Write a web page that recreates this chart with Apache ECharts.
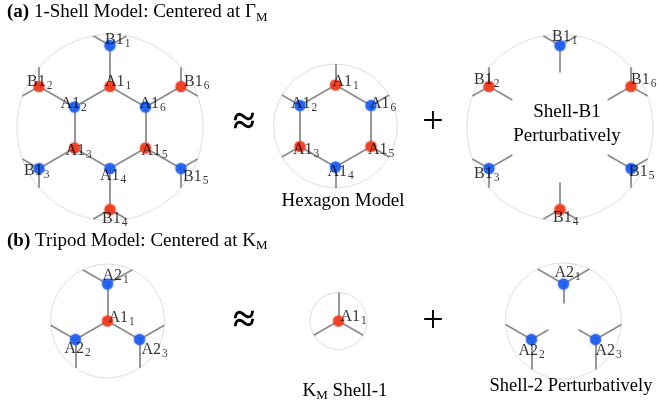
<!DOCTYPE html>
<html><head><meta charset="utf-8">
<script src="https://cdn.jsdelivr.net/npm/echarts@6/dist/echarts.min.js"></script>
<style>html,body{margin:0;padding:0;background:#fff}#c{width:658px;height:409px}</style>
</head><body><div id="c"></div>
<script>
// ---------- data (lattice coordinates, bond length = 1) ----------
// 1-shell model around Gamma_M : hexagon A1 + shell B1
const shellNames = ['A1_1','A1_2','A1_3','A1_4','A1_5','A1_6','B1_1','B1_2','B1_3','B1_4','B1_5','B1_6'];
const shellX     = [0, -0.866, -0.866, 0, 0.866, 0.866, 0, -1.732, -1.732, 0, 1.732, 1.732];
const shellY     = [1, 0.5, -0.5, -1, -0.5, 0.5, 2, 1, -1, -2, -1, 1];
const shellSub   = [0, 1, 0, 1, 0, 1, 1, 0, 1, 0, 1, 0];   // sublattice (0 / 1)
const hexagonNames = ['A1_1','A1_2','A1_3','A1_4','A1_5','A1_6'];
const shellB1Names = ['B1_1','B1_2','B1_3','B1_4','B1_5','B1_6'];
// Tripod model around K_M
const tripodNames = ['A1_1','A2_1','A2_2','A2_3'];
const tripodX     = [0, 0, -0.866, 0.866];
const tripodY     = [0, 1, -0.5, -0.5];
const tripodSub   = [0, 1, 1, 1];
const kShell1Names = ['A1_1'];
const shell2Names  = ['A2_1','A2_2','A2_3'];

// ---------- layout / style ----------
const F = '"Liberation Serif", "Times New Roman", serif';
const RED = '#f03c1e', BLUE = '#1e5ef0', BOND = '#8c8c8c', RING = '#dadada';
const E = 2.5;
const panels = [
  {names: shellNames,   src: 'shell',  cx: 110,   cy: 127.5, s: 41, r: 2.27, stub: 0,
   off: {B1_1:[-5,-5.5],A1_1:[-5,-5],B1_2:[-12,-5],B1_6:[3,-5],A1_2:[-14,-3],A1_6:[-6,-3],A1_3:[-9,3],A1_5:[-4,3],B1_3:[-15,2],A1_4:[-10,7],B1_5:[2,8],B1_4:[-8,9]}},
  {names: hexagonNames, src: 'shell',  cx: 335.5, cy: 126,   s: 41, r: 1.51, stub: 0,
   off: {A1_1:[-3,-3],A1_2:[-9,-2],A1_6:[-1,-2],A1_3:[-7,3],A1_5:[-3,3],A1_4:[-8,5]}},
  {names: shellB1Names, src: 'shell',  cx: 560,   cy: 127.5, s: 41, r: 2.27, stub: 0.66,
   off: {B1_1:[-8,-9],B1_2:[-15,-7],B1_6:[0,-7],B1_3:[-15,5],B1_5:[-2,3],B1_4:[-7,8]}},
  {names: tripodNames,  src: 'tripod', cx: 107.5, cy: 321,   s: 37, r: 1.54, stub: 0,
   off: {A2_1:[-5,-8],A1_1:[1,-3],A2_2:[-11,9],A2_3:[2,10]}},
  {names: kShell1Names, src: 'tripod', cx: 338.5, cy: 321,   s: 37, r: 0.77, stub: 0,
   off: {A1_1:[2,-4]}},
  {names: shell2Names,  src: 'tripod', cx: 563.5, cy: 321,   s: 37, r: 1.57, stub: 0.53,
   off: {A2_1:[-9,-11],A2_2:[-13,11],A2_3:[0,11]}}
];
const sources = {
  shell:  {names: shellNames,  x: shellX,  y: shellY,  sub: shellSub},
  tripod: {names: tripodNames, x: tripodX, y: tripodY, sub: tripodSub}
};
const DIRS = [[[0,1],[-0.866,-0.5],[0.866,-0.5]], [[0,-1],[0.866,0.5],[-0.866,0.5]]];

const grids = [], xAxes = [], yAxes = [], series = [];
panels.forEach((p, i) => {
  const src = sources[p.src];
  const nodes = p.names.map(n => {
    const k = src.names.indexOf(n);
    return {name: n, x: src.x[k], y: src.y[k], sub: src.sub[k]};
  });
  grids.push({left: p.cx - E*p.s, top: p.cy - E*p.s, width: 2*E*p.s, height: 2*E*p.s, outerBoundsMode: 'none', containLabel: false});
  xAxes.push({type: 'value', gridIndex: i, min: -E, max: E, show: false});
  yAxes.push({type: 'value', gridIndex: i, min: -E, max: E, show: false});

  // bonds: full bonds between present sites, truncated stubs toward removed sites, clipped bonds at the ring
  const segs = [];
  nodes.forEach((a, ia) => {
    DIRS[a.sub].forEach(d => {
      const qx = a.x + d[0], qy = a.y + d[1];
      const jb = nodes.findIndex(b => Math.abs(b.x - qx) < 0.02 && Math.abs(b.y - qy) < 0.02);
      if (jb >= 0) { if (jb > ia) segs.push([[a.x, a.y], [nodes[jb].x, nodes[jb].y]]); return; }
      let t;
      if (Math.hypot(qx, qy) < p.r) t = p.stub;
      else {
        const pd = a.x*d[0] + a.y*d[1];
        t = -pd + Math.sqrt(pd*pd - (a.x*a.x + a.y*a.y) + p.r*p.r);
      }
      segs.push([[a.x, a.y], [a.x + t*d[0], a.y + t*d[1]]]);
    });
  });

  series.push({
    type: 'custom', xAxisIndex: i, yAxisIndex: i, silent: true, z: 1,
    data: [[0, 0, p.r]],
    renderItem: (params, api) => {
      const c = api.coord([api.value(0), api.value(1)]);
      const rp = api.size([api.value(2), 0])[0];
      return {type: 'circle', shape: {cx: c[0], cy: c[1], r: rp}, style: {fill: '#fff', stroke: RING, lineWidth: 0.9}};
    }
  });
  series.push({
    type: 'lines', coordinateSystem: 'cartesian2d', xAxisIndex: i, yAxisIndex: i, silent: true, z: 2,
    lineStyle: {color: BOND, width: 1.8, opacity: 1},
    data: segs.map(c => ({coords: c}))
  });
  series.push({
    type: 'scatter', xAxisIndex: i, yAxisIndex: i, silent: true, z: 3,
    symbol: 'circle', symbolSize: 11,
    data: nodes.map(n => ({
      name: n.name, value: [n.x, n.y],
      itemStyle: {color: n.sub === 0 ? RED : BLUE, shadowBlur: 2, shadowColor: n.sub === 0 ? RED : BLUE},
      label: {offset: p.off[n.name] || [0, 0]}
    })),
    label: {
      show: true, position: 'inside', align: 'left', verticalAlign: 'middle', color: '#000',
      formatter: prm => { const s = prm.name.split('_'); return '{m|' + s[0] + '}{s|' + s[1] + '}'; },
      rich: {
        m: {fontFamily: F, fontSize: 16, color: '#000'},
        s: {fontFamily: F, fontSize: 11.5, color: '#000', padding: [8, 0, 0, 1]}
      }
    }
  });
});

function txt(x, y, text, size, align, rich, weight) {
  return {type: 'text', x: x, y: y, silent: true, z: 10,
    style: {text: text, font: (weight || 'normal') + ' ' + size + 'px ' + F, fill: '#000', align: align || 'center', verticalAlign: 'middle', rich: rich || {}}};
}
const titleRich = {b: {fontFamily: F, fontSize: 19, fontWeight: 'bold'}, s: {fontFamily: F, fontSize: 13, padding: [10, 0, 0, 0]}};
const graphic = [
  txt(7, 12.5, '{b|(a)} 1-Shell Model: Centered at Γ{s|M}', 19, 'left', titleRich),
  txt(7, 241, '{b|(b)} Tripod Model: Centered at K{s|M}', 19, 'left', titleRich),
  txt(244, 124, '≈', 40, 'center', null, 'bold'), txt(433, 123, '+', 38),
  txt(244, 322, '≈', 40, 'center', null, 'bold'), txt(433, 322, '+', 38),
  txt(343, 201, 'Hexagon Model', 19),
  txt(567, 112, 'Shell-B1', 19),
  txt(567, 136, 'Perturbatively', 19),
  txt(345, 391, 'K{s|M} Shell-1', 19, 'center', {s: {fontFamily: F, fontSize: 13, padding: [10, 0, 0, 0]}}),
  txt(571, 386, 'Shell-2 Perturbatively', 18.5)
];

const chart = echarts.init(document.getElementById('c'), null, {renderer: 'canvas'});
chart.setOption({
  animation: false, backgroundColor: '#fff',
  grid: grids, xAxis: xAxes, yAxis: yAxes, series: series, graphic: graphic
});
</script></body></html>
